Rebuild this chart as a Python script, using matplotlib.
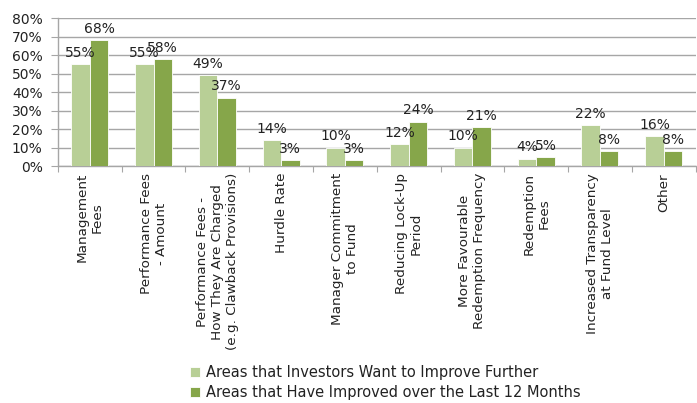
import numpy as np
import matplotlib
matplotlib.use("Agg")
import matplotlib.pyplot as plt

categories = ["Management\nFees",
              "Performance Fees\n- Amount",
              "Performance Fees -\nHow They Are Charged\n(e.g. Clawback Provisions)",
              "Hurdle Rate",
              "Manager Commitment\nto Fund",
              "Reducing Lock-Up\nPeriod",
              "More Favourable\nRedemption Frequency",
              "Redemption\nFees",
              "Increased Transparency\nat Fund Level",
              "Other"]
want_improve = [55, 55, 49, 14, 10, 12, 10, 4, 22, 16]
have_improved = [68, 58, 37, 3, 3, 24, 21, 5, 8, 8]
series_names = ["Areas that Investors Want to Improve Further",
                "Areas that Have Improved over the Last 12 Months"]
yticks = [0, 10, 20, 30, 40, 50, 60, 70, 80]

light = "#B8CF96"
dark = "#86A64A"
grid = "#A6A6A6"

plt.rcParams['font.family'] = ['DejaVu Sans']

fig = plt.figure(figsize=(6.97, 4.03), dpi=100)
ax = fig.add_axes([0.083, 0.588, 0.915, 0.367])

x = np.arange(len(categories))
w = 0.29
b1 = ax.bar(x - w/2, want_improve, w, color=light, edgecolor="white", linewidth=0.6,
            label=series_names[0], zorder=3)
b2 = ax.bar(x + w/2, have_improved, w, color=dark, edgecolor="white", linewidth=0.6,
            label=series_names[1], zorder=3)

for bars, vals in [(b1, want_improve), (b2, have_improved)]:
    for r, v in zip(bars, vals):
        ax.annotate("%d%%" % v, (r.get_x() + r.get_width()/2, v),
                    xytext=(0, 3), textcoords="offset points",
                    ha="center", va="bottom", fontsize=10, color="#222222", zorder=4)

ax.set_xlim(-0.5, len(categories) - 0.5)
ax.set_ylim(0, 80)
ax.set_yticks(yticks)
ax.set_yticklabels(["%d%%" % t for t in yticks], fontsize=10, color="#222222")
ax.yaxis.grid(True, color=grid, linewidth=1, zorder=0)
ax.set_axisbelow(True)

# category boundary ticks, labels in the middle
ax.set_xticks(np.arange(len(categories) + 1) - 0.5)
ax.set_xticklabels([])
ax.set_xticks(x, minor=True)
ax.set_xticklabels(categories, minor=True, rotation=90, fontsize=9.7,
                   ha="center", va="top", multialignment="center", color="#222222")
ax.tick_params(axis="x", which="minor", length=0, pad=5)
ax.tick_params(axis="x", which="major", length=4, color=grid)
ax.tick_params(axis="y", length=5, color=grid, pad=6)

for s in ["top", "right"]:
    ax.spines[s].set_visible(False)
for s in ["left", "bottom"]:
    ax.spines[s].set_color(grid)
    ax.spines[s].set_linewidth(1)

fig.legend(handles=[b1, b2], loc="upper left", bbox_to_anchor=(0.262, 0.112),
           frameon=False, fontsize=10.5, handlelength=0.7, handleheight=0.7,
           handletextpad=0.4, labelspacing=0.35, borderpad=0, labelcolor="#222222")

fig.savefig("out.png", dpi=100)
